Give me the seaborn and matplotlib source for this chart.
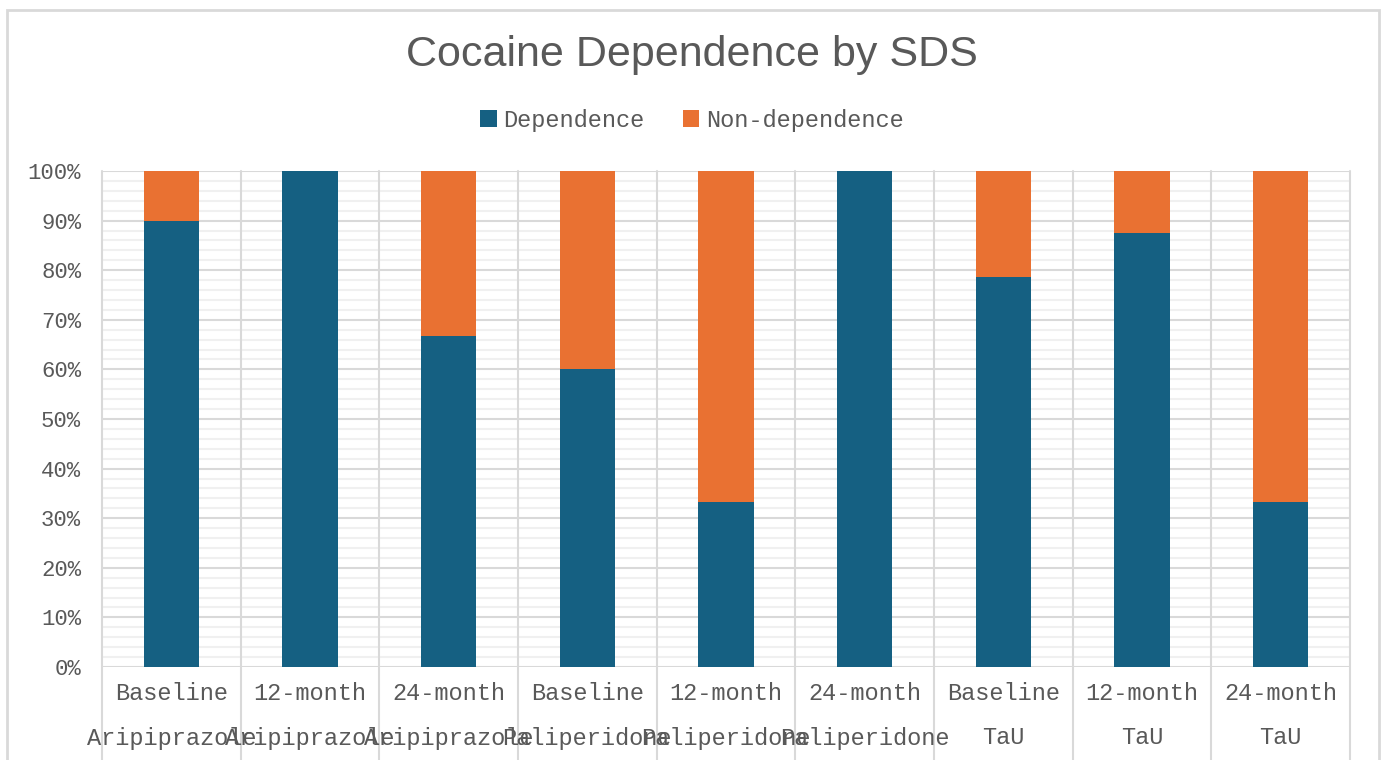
import matplotlib
matplotlib.use("Agg")
import matplotlib.pyplot as plt
from matplotlib.patches import Patch, Rectangle
import numpy as np
import pandas as pd
import seaborn as sns

# data
timepoints = ["Baseline", "12-month", "24-month"] * 3
groups = ["Aripiprazole"] * 3 + ["Paliperidone"] * 3 + ["TaU"] * 3
dependence = [90.0, 100.0, 66.7, 60.0, 33.3, 100.0, 78.6, 87.5, 33.3]
non_dependence = [10.0, 0.0, 33.3, 40.0, 66.7, 0.0, 21.4, 12.5, 66.7]
series_names = ["Dependence", "Non-dependence"]
colors = ["#156082", "#E97132"]

sns.set_theme(style="white")
plt.rcParams['font.family'] = ['Liberation Sans', 'DejaVu Sans']
mono = 'Liberation Mono'
txt = '#595959'
grid_major = '#d9d9d9'
grid_minor = '#f0f0f0'

df = pd.DataFrame({
    "cat": [f"{t}\n{g}" for t, g in zip(timepoints, groups)],
    "dep": dependence,
    "total": np.array(dependence) + np.array(non_dependence),
})

fig = plt.figure(figsize=(13.84, 7.6), dpi=100)
ax = fig.add_axes([102/1384, 1-667/760, (1350-102)/1384, (667-171)/760])

# minor + major horizontal gridlines
for y in np.arange(0, 101, 2):
    if y % 10 == 0:
        continue
    ax.axhline(y, color=grid_minor, lw=1.5, zorder=0)
for y in np.arange(0, 101, 10):
    ax.axhline(y, color=grid_major, lw=1.5, zorder=0.5)

# stacked bars: total (orange) underneath, dependence (blue) on top
sns.barplot(data=df, x="cat", y="total", color=colors[1], width=0.4,
            saturation=1, linewidth=0, ax=ax, zorder=2)
sns.barplot(data=df, x="cat", y="dep", color=colors[0], width=0.4,
            saturation=1, linewidth=0, ax=ax, zorder=3)

n = len(df)
ax.set_xlim(-0.5, n - 0.5)
ax.set_ylim(0, 100)
ax.set_xlabel("")
ax.set_ylabel("")
for s in ax.spines.values():
    s.set_visible(False)

# category separators, extending below the axis through the labels
bottom = -(760 - 667) / 496
for xb in np.arange(-0.5, n, 1.0):
    ax.plot([xb, xb], [1, bottom], color=grid_major, lw=1.5,
            transform=ax.get_xaxis_transform(), clip_on=False, zorder=1)

ax.set_xticks(range(n))
ax.set_xticklabels([])
ax.tick_params(axis='x', length=0)
tr = ax.get_xaxis_transform()
for i in range(n):
    ax.text(i, -26/496, timepoints[i], ha='center', va='center',
            transform=tr, family=mono, fontsize=17, color=txt)
    ax.text(i, -71/496, groups[i], ha='center', va='center',
            transform=tr, family=mono, fontsize=17, color=txt)

ax.set_yticks(np.arange(0, 101, 10))
ax.set_yticklabels([f"{v}%" for v in range(0, 101, 10)], family=mono,
                   fontsize=16, color=txt)
ax.tick_params(axis='y', length=0, pad=15)

fig.text(0.5, 1 - 55/760, "Cocaine Dependence by SDS", ha='center',
         va='center', fontsize=31, color=txt)

handles = [Patch(facecolor=c, edgecolor='none') for c in colors]
fig.legend(handles, series_names, loc='center', bbox_to_anchor=(0.5, 1 - 120/760),
           ncol=2, frameon=False, handlelength=0.7, handleheight=0.7,
           handletextpad=0.3, columnspacing=1.6,
           prop={'family': mono, 'size': 17}, labelcolor=txt)

# outer chart border
fig.patches.append(Rectangle((7/1384, -0.05), (1379-7)/1384, 1.05 - 10/760,
                             transform=fig.transFigure, fill=False,
                             edgecolor='#d9d9d9', lw=2))

fig.savefig("out.png", dpi=100, facecolor='white')
